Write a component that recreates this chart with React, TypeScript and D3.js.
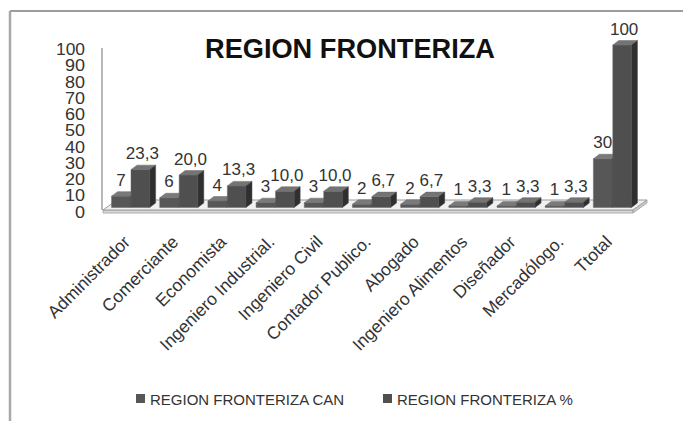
import React from "react";
import * as d3 from "d3";

const categories = [
  "Administrador",
  "Comerciante",
  "Economista",
  "Ingeniero Industrial.",
  "Ingeniero Civil",
  "Contador Publico.",
  "Abogado",
  "Ingeniero Alimentos",
  "Diseñador",
  "Mercadólogo.",
  "Ttotal",
];
const canValues = [7, 6, 4, 3, 3, 2, 2, 1, 1, 1, 30];
const pctValues = [23.3, 20.0, 13.3, 10.0, 10.0, 6.7, 6.7, 3.3, 3.3, 3.3, 100];
const seriesNames = ["REGION FRONTERIZA CAN", "REGION FRONTERIZA %"];

const WIDTH = 683;
const HEIGHT = 421;
const FONT = "'Liberation Sans', Arial, sans-serif";

// floor geometry (front edge + depth offset)
const FLOOR_Y = 210;
const FLOOR_X0 = 103;
const FLOOR_X1 = 633;
const FLOOR_DX = 14;
const FLOOR_DY = -10;
// bars sit a bit inside the floor depth
const BAR_SHIFT_X = 3.5;
const BAR_SHIFT_Y = -2.5;
const BAR_DX = 6;
const BAR_DY = -4.5;

const fmtPct = (v: number) => (v === 100 ? "100" : v.toFixed(1).replace(".", ","));

const Bar3D = ({x, w, yTop, yBase, front, top, side}: any) => {
  const p = (pts: number[][]) => pts.map((d) => d.join(",")).join(" ");
  return (
    <g>
      <polygon
        points={p([[x, yBase], [x + w, yBase], [x + w, yTop], [x, yTop]])}
        fill={front}
        stroke="#6a6a6a"
        strokeWidth={0.5}
      />
      <polygon
        points={p([
          [x, yTop],
          [x + w, yTop],
          [x + w + BAR_DX, yTop + BAR_DY],
          [x + BAR_DX, yTop + BAR_DY],
        ])}
        fill={top}
        stroke="#6a6a6a"
        strokeWidth={0.5}
      />
      <polygon
        points={p([
          [x + w, yBase],
          [x + w + BAR_DX, yBase + BAR_DY],
          [x + w + BAR_DX, yTop + BAR_DY],
          [x + w, yTop],
        ])}
        fill={side}
        stroke="#4a4a4a"
        strokeWidth={0.5}
      />
    </g>
  );
};

const App = () => {
  const xScale = d3
    .scaleBand<string>()
    .domain(categories)
    .range([FLOOR_X0, FLOOR_X1])
    .paddingInner(0)
    .paddingOuter(0);

  const inner = d3
    .scaleBand<number>()
    .domain([0, 1])
    .range([0, xScale.bandwidth()])
    .paddingOuter(0.26)
    .paddingInner(0.04);

  const baseY = FLOOR_Y + BAR_SHIFT_Y;
  const yScale = d3.scaleLinear().domain([0, 100]).range([baseY, 45]);

  const floorPts = [
    [FLOOR_X0, FLOOR_Y],
    [FLOOR_X1, FLOOR_Y],
    [FLOOR_X1 + FLOOR_DX, FLOOR_Y + FLOOR_DY],
    [FLOOR_X0 + FLOOR_DX, FLOOR_Y + FLOOR_DY],
  ];

  return (
    <svg
      width={WIDTH}
      height={HEIGHT}
      style={{position: "absolute", left: 0, top: 0, background: "#fff"}}
      fontFamily={FONT}
    >
      {/* frame */}
      <line x1={10} x2={WIDTH} y1={11} y2={11} stroke="#9c9c9c" strokeWidth={2} />
      <line x1={10} x2={10} y1={11} y2={HEIGHT} stroke="#a8a8a8" strokeWidth={2.5} />

      {/* title */}
      <text
        x={350}
        y={58}
        textAnchor="middle"
        fontSize={27}
        fontWeight="bold"
        fill="#111"
        textLength={290}
        lengthAdjust="spacingAndGlyphs"
      >
        REGION FRONTERIZA
      </text>

      {/* y axis labels */}
      {yScale.ticks(10).map((t) => (
        <text
          key={t}
          x={85}
          y={yScale(t) + 4.5}
          dy="0.35em"
          textAnchor="end"
          fontSize={16}
          fill="#333"
          textLength={t === 100 ? 29 : t === 0 ? 10 : 20}
          lengthAdjust="spacingAndGlyphs"
        >
          {t}
        </text>
      ))}

      {/* back wall edge */}
      <line x1={102} x2={102} y1={48} y2={FLOOR_Y} stroke="#a0a0a0" strokeWidth={1.5} />

      {/* floor */}
      <polygon
        points={[
          [FLOOR_X0, FLOOR_Y],
          [FLOOR_X1, FLOOR_Y],
          [FLOOR_X1, FLOOR_Y + 3],
          [FLOOR_X0, FLOOR_Y + 3],
        ]
          .map((d) => d.join(","))
          .join(" ")}
        fill="#d8d8d8"
        stroke="#a0a0a0"
        strokeWidth={0.8}
      />
      <polygon
        points={floorPts.map((d) => d.join(",")).join(" ")}
        fill="#f0f0f0"
        stroke="#9a9a9a"
        strokeWidth={1}
      />
      <polygon
        points={[
          [FLOOR_X1, FLOOR_Y],
          [FLOOR_X1 + FLOOR_DX, FLOOR_Y + FLOOR_DY],
          [FLOOR_X1 + FLOOR_DX, FLOOR_Y + FLOOR_DY + 3],
          [FLOOR_X1, FLOOR_Y + 3],
        ]
          .map((d) => d.join(","))
          .join(" ")}
        fill="#c8c8c8"
        stroke="#a0a0a0"
        strokeWidth={0.8}
      />

      {/* bars */}
      {categories.map((c, i) => {
        const x0 = (xScale(c) as number) + BAR_SHIFT_X;
        const w = inner.bandwidth();
        const xCan = x0 + (inner(0) as number);
        const xPct = x0 + (inner(1) as number);
        const yCan = yScale(canValues[i]);
        const yPct = yScale(pctValues[i]);
        return (
          <g key={c}>
            <Bar3D x={xCan} w={w} yTop={yCan} yBase={baseY} front="#575757" top="#7a7a7a" side="#363636" />
            <Bar3D x={xPct} w={w} yTop={yPct} yBase={baseY} front="#4f4f4f" top="#747474" side="#2f2f2f" />
          </g>
        );
      })}

      {/* data labels */}
      {categories.map((c, i) => {
        const x0 = (xScale(c) as number) + BAR_SHIFT_X;
        const w = inner.bandwidth();
        const xCan = x0 + (inner(0) as number) + w / 2;
        const xPct = x0 + (inner(1) as number) + w / 2;
        return (
          <g key={c} fontSize={17} fill="#333" textAnchor="middle">
            <text x={xCan} y={yScale(canValues[i]) + BAR_DY - 6}>
              {canValues[i]}
            </text>
            <text x={xPct + 2} y={yScale(pctValues[i]) + BAR_DY - 6}>
              {fmtPct(pctValues[i])}
            </text>
          </g>
        );
      })}

      {/* category labels */}
      {categories.map((c) => {
        const cx = (xScale(c) as number) + xScale.bandwidth() / 2 + 4;
        const cy = 243;
        return (
          <text
            key={c}
            transform={`translate(${cx},${cy}) rotate(-45)`}
            textAnchor="end"
            fontSize={17.5}
            fill="#333"
          >
            {c}
          </text>
        );
      })}

      {/* legend */}
      {seriesNames.map((s, i) => {
        const lx = i === 0 ? 136 : 383;
        return (
          <g key={s}>
            <rect x={lx} y={394} width={9} height={9} fill={i === 0 ? "#575757" : "#4f4f4f"} />
            <text x={lx + 14} y={405} fontSize={15} fill="#333">
              {s}
            </text>
          </g>
        );
      })}
    </svg>
  );
};

export default App;
